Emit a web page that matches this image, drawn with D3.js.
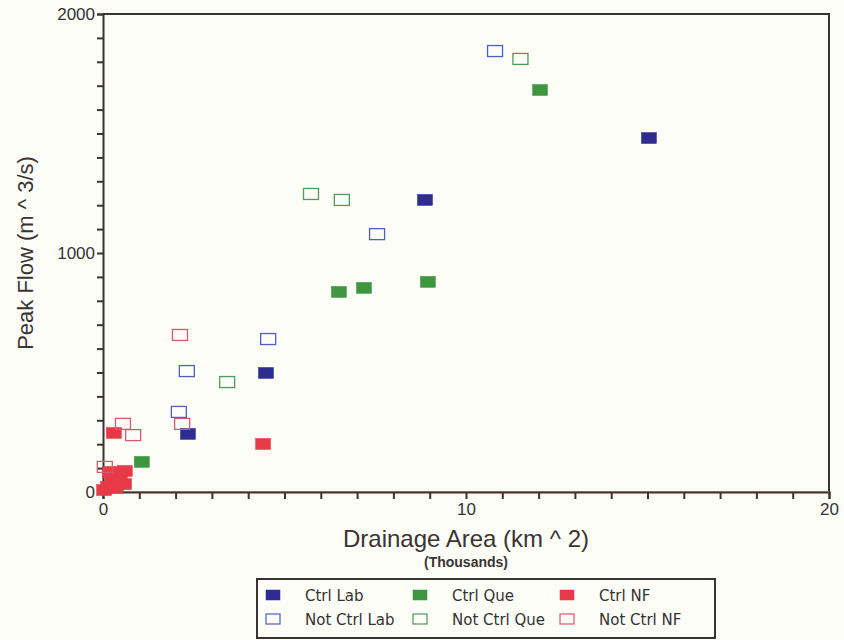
<!DOCTYPE html>
<html>
<head>
<meta charset="utf-8">
<script src="https://cdn.jsdelivr.net/npm/d3@7"></script>
<style>
  body { margin: 0; background: #fdfdf7; }
  svg { display: block; font-family: 'Liberation Sans', Arial, sans-serif; }
</style>
</head>
<body>
<script>
const width = 844
const height = 640
const margin = {top: 14, right: 15, bottom: 148, left: 103}

// drainage area in thousands of km^2, peak flow in m^3/s
const ctrlLabX = [15.04, 8.87, 4.49, 2.34]
const ctrlLabY = [1481, 1222, 498, 243]
const notCtrlLabX = [10.8, 7.55, 4.55, 2.31, 2.09]
const notCtrlLabY = [1845, 1079, 640, 506, 335]
const ctrlQueX = [12.04, 8.95, 7.19, 6.5, 1.07]
const ctrlQueY = [1682, 879, 854, 837, 126]
const notCtrlQueX = [11.5, 5.73, 6.58, 3.42]
const notCtrlQueY = [1812, 1247, 1222, 460]
const ctrlNfX = [4.41, 0.3, 0.14, 0.25, 0.47, 0.6, 0.58, 0.03, 0.36, 0.19]
const ctrlNfY = [201, 247, 21, 50, 71, 88, 33, 8, 17, 84]
const notCtrlNfX = [2.12, 0.55, 0.83, 2.18, 0.05]
const notCtrlNfY = [657, 285, 238, 285, 105]

const xTickLabels = [0, 10, 20]
const yTickLabels = [0, 1000, 2000]

const series = [
  {name: 'Ctrl Lab', xs: ctrlLabX, ys: ctrlLabY, color: '#2e2c90', filled: true},
  {name: 'Ctrl Que', xs: ctrlQueX, ys: ctrlQueY, color: '#3e9640', filled: true},
  {name: 'Ctrl NF', xs: ctrlNfX, ys: ctrlNfY, color: '#e63a48', filled: true},
  {name: 'Not Ctrl Lab', xs: notCtrlLabX, ys: notCtrlLabY, color: '#4d5ec4', filled: false},
  {name: 'Not Ctrl Que', xs: notCtrlQueX, ys: notCtrlQueY, color: '#4f9a5c', filled: false},
  {name: 'Not Ctrl NF', xs: notCtrlNfX, ys: notCtrlNfY, color: '#d45a6c', filled: false}
]

const x = d3.scaleLinear().domain([0, 20]).range([margin.left, width - margin.right])
const y = d3.scaleLinear().domain([0, 2000]).range([height - margin.bottom, margin.top])

const svg = d3.select('body').append('svg').attr('width', width).attr('height', height)

const axisColor = '#3b3330'
const boxW = 15
const boxH = 11

// frame top and right
svg.append('path')
  .attr('d', `M${x(0)},${y(2000)} H${x(20)} V${y(0)}`)
  .attr('fill', 'none')
  .attr('stroke', axisColor)
  .attr('stroke-width', 2)

// x axis
const xAxis = svg.append('g')
  .attr('transform', `translate(0,${y(0)})`)
  .call(d3.axisBottom(x).tickValues(d3.range(0, 21, 1)).tickSize(7).tickPadding(4)
    .tickFormat(d => xTickLabels.includes(d) ? d : ''))
xAxis.select('.domain').attr('stroke', axisColor).attr('stroke-width', 2)
xAxis.selectAll('.tick line').attr('stroke', axisColor).attr('stroke-width', 2)
xAxis.selectAll('.tick text').attr('fill', '#333').style('font-size', '17px')

// y axis
const yAxis = svg.append('g')
  .attr('transform', `translate(${x(0)},0)`)
  .call(d3.axisLeft(y).tickValues(d3.range(0, 2001, 100)).tickSize(6).tickPadding(2)
    .tickFormat(d => yTickLabels.includes(d) ? d : ''))
yAxis.select('.domain').attr('stroke', axisColor).attr('stroke-width', 2)
yAxis.selectAll('.tick line').attr('stroke', axisColor).attr('stroke-width', 2)
yAxis.selectAll('.tick text').attr('fill', '#333').style('font-size', '17px')

// thin red line along the baseline
svg.append('line')
  .attr('x1', x(0)).attr('x2', x(20))
  .attr('y1', y(0) - 0.5).attr('y2', y(0) - 0.5)
  .attr('stroke', '#d84858').attr('stroke-width', 1)

// points
series.forEach(s => {
  svg.append('g')
    .selectAll('rect')
    .data(s.xs.map((v, i) => [v, s.ys[i]]))
    .join('rect')
    .attr('x', d => x(d[0]) - boxW / 2)
    .attr('y', d => y(d[1]) - boxH / 2)
    .attr('width', boxW)
    .attr('height', boxH)
    .attr('fill', s.filled ? s.color : 'none')
    .attr('stroke', s.color)
    .attr('stroke-width', s.filled ? 0.5 : 1.3)
})

// axis titles
svg.append('text')
  .attr('transform', `translate(33,${y(1000)}) rotate(-90)`)
  .attr('text-anchor', 'middle')
  .attr('fill', '#3a3432')
  .style('font-size', '22px')
  .text('Peak Flow (m ^ 3/s)')

svg.append('text')
  .attr('x', 466).attr('y', 547)
  .attr('text-anchor', 'middle')
  .attr('fill', '#3a3432')
  .style('font-size', '24px')
  .text('Drainage Area (km ^ 2)')

svg.append('text')
  .attr('x', 466).attr('y', 567)
  .attr('text-anchor', 'middle')
  .attr('fill', '#3a3432')
  .style('font-size', '14px')
  .style('font-weight', 'bold')
  .text('(Thousands)')

// legend
const legend = svg.append('g')
legend.append('rect')
  .attr('x', 257).attr('y', 579)
  .attr('width', 458).attr('height', 59)
  .attr('fill', 'none')
  .attr('stroke', '#3a3232')
  .attr('stroke-width', 2)

const colX = [273, 420, 567]
const rowY = [595, 619]
series.forEach((s, i) => {
  const cx = colX[i % 3]
  const cy = rowY[Math.floor(i / 3)]
  legend.append('rect')
    .attr('x', cx - 7).attr('y', cy - 5)
    .attr('width', 14).attr('height', 10)
    .attr('fill', s.filled ? s.color : 'none')
    .attr('stroke', s.color)
    .attr('stroke-width', s.filled ? 0.5 : 1.2)
  legend.append('text')
    .attr('x', cx + 32).attr('y', cy + 6)
    .attr('fill', '#333')
    .style('font-family', "'DejaVu Sans', sans-serif")
    .style('font-size', '15px')
    .text(s.name)
})
</script>
</body>
</html>
